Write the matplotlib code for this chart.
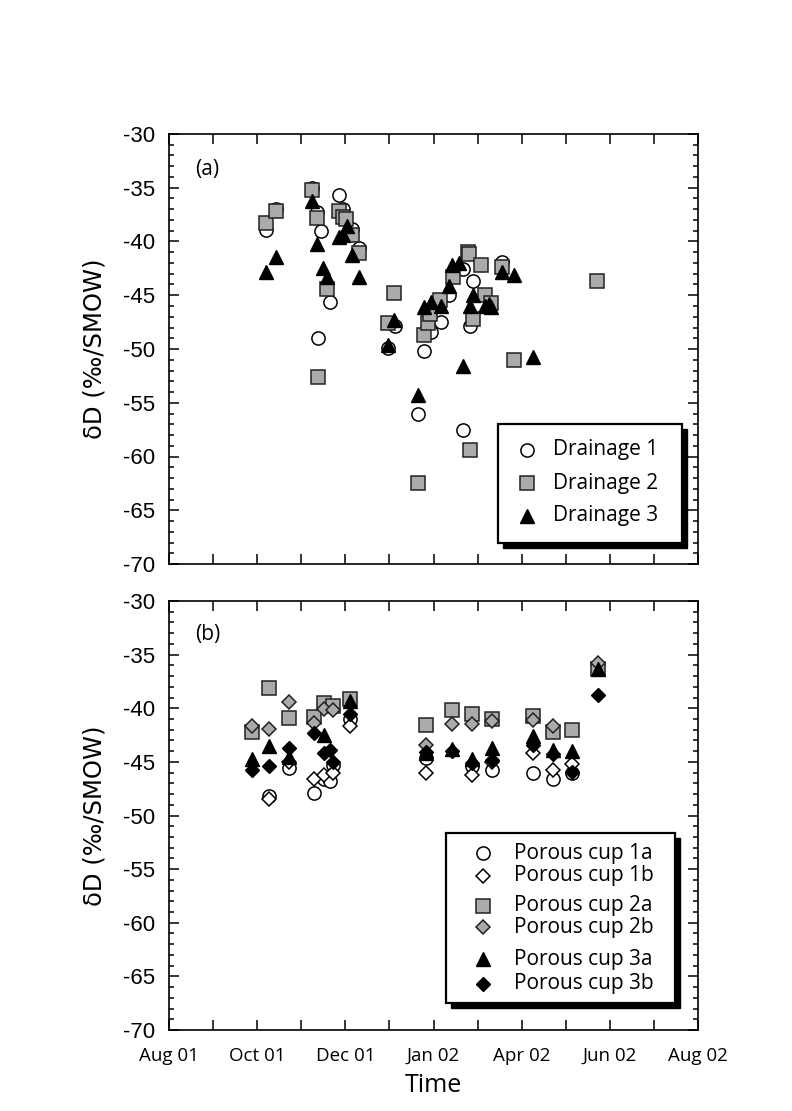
import numpy as np
import matplotlib
matplotlib.use("Agg")
from matplotlib import pyplot as plt
from matplotlib.patches import Rectangle
from matplotlib.ticker import MultipleLocator, FixedLocator, NullFormatter

plt.rcParams["axes.unicode_minus"] = False

# x in days since 1 Aug 2001
d1_day = [67, 74, 99, 102, 103, 105, 111, 117, 120, 126, 131, 151, 156, 172, 176, 181, 188, 193, 203, 203, 208, 210, 230]
d1_val = [-38.9, -37.0, -35.0, -37.3, -49.0, -39.0, -45.6, -35.7, -37.0, -38.8, -40.6, -49.9, -47.9, -56.0, -50.2,
          -48.4, -47.5, -45.0, -42.6, -57.5, -47.9, -43.7, -41.9]
d2_day = [67, 74, 99, 102, 103, 109, 117, 120, 122, 126, 131, 151, 155, 172, 176, 179, 180, 187, 196, 206, 207, 208,
          210, 215, 218, 222, 230, 238, 295]
d2_val = [-38.3, -37.2, -35.2, -37.8, -52.6, -44.4, -37.2, -37.7, -37.9, -39.4, -41.1, -47.6, -44.8, -62.5, -48.7,
          -47.6, -46.7, -45.4, -43.3, -41.0, -41.2, -59.4, -47.2, -42.2, -45.0, -45.7, -42.4, -51.0, -43.7]
d3_day = [67, 74, 99, 102, 106, 109, 117, 120, 123, 126, 131, 151, 155, 172, 176, 181, 188, 193, 195, 200, 203, 208,
          210, 218, 221, 222, 230, 238, 251]
d3_val = [-42.8, -41.4, -36.2, -40.2, -42.5, -43.3, -39.6, -39.4, -38.6, -41.3, -43.3, -49.6, -47.3, -54.3, -46.1,
          -45.6, -46.0, -44.1, -42.2, -42.0, -51.6, -46.0, -45.0, -46.0, -45.8, -46.1, -42.8, -43.1, -50.7]

p1a_day = [69, 83, 100, 107, 111, 113, 125, 177, 209, 223, 251, 265, 278]
p1a_val = [-48.2, -45.6, -47.9, -46.6, -46.8, -45.3, -41.0, -44.6, -45.4, -45.8, -46.0, -46.6, -46.0]
p1b_day = [69, 83, 100, 107, 113, 125, 177, 209, 223, 251, 265, 278, 296]
p1b_val = [-48.5, -45.0, -46.6, -46.2, -46.0, -41.7, -46.0, -46.2, -45.0, -44.2, -45.8, -45.2, -36.0]
p2a_day = [57, 69, 83, 100, 107, 113, 125, 177, 195, 209, 223, 251, 265, 278, 296]
p2a_val = [-42.2, -38.1, -40.9, -40.8, -39.5, -39.8, -39.1, -41.6, -40.2, -40.5, -41.0, -40.7, -42.2, -42.0, -36.3]
p2b_day = [57, 69, 83, 100, 107, 113, 177, 195, 209, 223, 251, 265, 296]
p2b_val = [-41.7, -41.9, -39.4, -41.4, -40.1, -40.2, -43.4, -41.5, -41.5, -41.2, -41.1, -41.7, -35.8]
p3a_day = [57, 69, 83, 107, 125, 177, 195, 209, 223, 251, 265, 278, 296]
p3a_val = [-44.7, -43.5, -44.5, -42.5, -39.3, -44.2, -43.8, -44.7, -43.7, -42.6, -43.9, -44.0, -36.3]
p3b_day = [57, 69, 83, 100, 107, 111, 113, 125, 177, 195, 209, 223, 251, 265, 278, 296]
p3b_val = [-45.8, -45.4, -43.7, -42.3, -44.2, -43.9, -45.0, -40.5, -44.1, -44.0, -45.1, -44.8, -43.4, -44.3, -45.9,
           -38.8]

month_len = 365 / 12
tick_labels = ["Aug 01", "", "Oct 01", "", "Dec 01", "", "Jan 02", "", "Apr 02", "", "Jun 02", "", "Aug 02"]

GRAY = "#aaaaaa"
EDGE = "#222222"

styles = {
    "circ": dict(marker="o", ms=9.5, mfc="white", mec="black", mew=1.1),
    "sq": dict(marker="s", ms=10.5, mfc=GRAY, mec=EDGE, mew=1.1),
    "tri": dict(marker="^", ms=10.5, mfc="black", mec="black", mew=1.0),
    "odia": dict(marker="D", ms=7.0, mfc="white", mec="black", mew=1.1),
    "gdia": dict(marker="D", ms=7.0, mfc=GRAY, mec=EDGE, mew=1.1),
    "bdia": dict(marker="D", ms=7.0, mfc="black", mec="black", mew=1.0),
}

fig = plt.figure(figsize=(7.92, 11.11), dpi=100)
W, H = 792, 1111
ax_a = fig.add_axes([169 / W, 1 - 564 / H, 529 / W, 430 / H])
ax_b = fig.add_axes([169 / W, 1 - 1030 / H, 529 / W, 429 / H])

for ax in (ax_a, ax_b):
    ax.set_xlim(0, 365)
    ax.set_ylim(-70, -30)
    ax.xaxis.set_major_locator(FixedLocator(np.arange(13) * month_len))
    ax.yaxis.set_major_locator(MultipleLocator(5))
    ax.yaxis.set_minor_locator(MultipleLocator(1))
    ax.tick_params(which="both", direction="in", top=True, right=True, width=1.1)
    ax.tick_params(which="major", length=7)
    ax.tick_params(which="minor", length=3.5)
    ax.tick_params(axis="y", labelsize=16, pad=10)
    for sp in ax.spines.values():
        sp.set_linewidth(1.2)
    for lab in ax.get_yticklabels():
        lab.set_family("Liberation Sans")
    ax.set_ylabel("δD (‰/SMOW)", fontsize=17.5, family="DejaVu Sans", labelpad=12)

ax_a.xaxis.set_major_formatter(NullFormatter())
ax_b.set_xticklabels(tick_labels, fontsize=13.5, family="Open Sans")
ax_b.tick_params(axis="x", pad=12)
ax_b.set_xlabel("Time", fontsize=18, family="Open Sans", labelpad=6)

# panel (a)
ax_a.plot(d1_day, d1_val, ls="none", **styles["circ"])
ax_a.plot(d2_day, d2_val, ls="none", **styles["sq"])
ax_a.plot(d3_day, d3_val, ls="none", **styles["tri"])
ax_a.text(0.05, 0.918, "(a)", transform=ax_a.transAxes, fontsize=15, family="Open Sans", va="center")

# panel (b)
ax_b.plot(p1a_day, p1a_val, ls="none", **styles["circ"])
ax_b.plot(p1b_day, p1b_val, ls="none", **styles["odia"])
ax_b.plot(p2a_day, p2a_val, ls="none", **styles["sq"])
ax_b.plot(p2b_day, p2b_val, ls="none", **styles["gdia"])
ax_b.plot(p3a_day, p3a_val, ls="none", **styles["tri"])
ax_b.plot(p3b_day, p3b_val, ls="none", **styles["bdia"])
ax_b.text(0.05, 0.922, "(b)", transform=ax_b.transAxes, fontsize=15, family="Open Sans", va="center")


def boxed_legend(box, entries, marker_x, text_x):
    # box = (x0, y0, x1, y1) in figure pixels (y from top)
    x0, y0, x1, y1 = box
    sh = Rectangle((x0 / W + 5 / W, 1 - (y1 + 5) / H), (x1 - x0) / W, (y1 - y0) / H,
                   transform=fig.transFigure, facecolor="black", edgecolor="black", zorder=5)
    bx = Rectangle((x0 / W, 1 - y1 / H), (x1 - x0) / W, (y1 - y0) / H,
                   transform=fig.transFigure, facecolor="white", edgecolor="black", lw=1.6, zorder=6)
    fig.patches.extend([sh, bx])
    for y, key, label in entries:
        fig.lines.append(plt.Line2D([marker_x / W], [1 - y / H], transform=fig.transFigure, ls="none",
                                    zorder=7, **styles[key]))
        fig.text(text_x / W, 1 - y / H, label, fontsize=15, family="Open Sans", va="center", zorder=7)


boxed_legend((498, 424, 682, 543),
             [(450, "circ", "Drainage 1"), (483, "sq", "Drainage 2"), (516, "tri", "Drainage 3")],
             527, 553)
boxed_legend((446, 833, 675, 1003),
             [(853, "circ", "Porous cup 1a"), (876, "odia", "Porous cup 1b"),
              (906, "sq", "Porous cup 2a"), (927, "gdia", "Porous cup 2b"),
              (959, "tri", "Porous cup 3a"), (984, "bdia", "Porous cup 3b")],
             483, 514)

fig.savefig("out.png", dpi=100, facecolor="white")
